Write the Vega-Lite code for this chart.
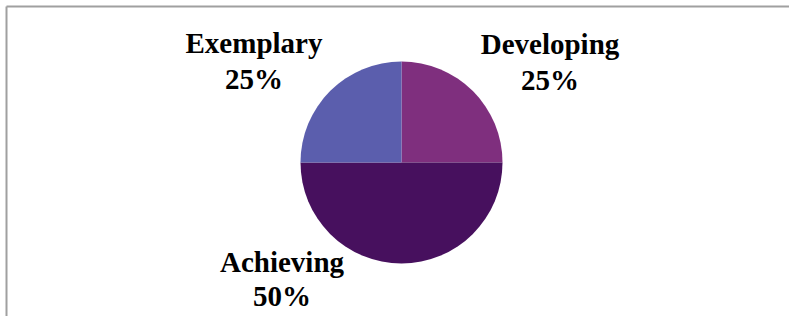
{
  "$schema": "https://vega.github.io/schema/vega-lite/v6.json",
  "autosize": {"type": "none"},
  "padding": {"left": 6, "top": 6, "right": 0, "bottom": 0},
  "width": 783,
  "height": 310,
  "background": "white",
  "config": {"view": {"stroke": null}},
  "data": {"values": [
    {"category": "Developing", "value": 25},
    {"category": "Achieving", "value": 50},
    {"category": "Exemplary", "value": 25}
  ]},
  "transform": [
    {"window": [{"op": "row_number", "as": "idx"}]},
    {"calculate": "[datum.category, datum.value + '%']", "as": "label"}
  ],
  "layer": [
    {
      "mark": {"type": "point", "opacity": 0},
      "encoding": {
        "x": {"field": "value", "type": "quantitative", "axis": {"orient": "top", "labels": false, "ticks": false, "grid": false, "title": null, "domainColor": "#a0a0a0", "domainWidth": 2}},
        "y": {"field": "value", "type": "quantitative", "axis": {"orient": "left", "labels": false, "ticks": false, "grid": false, "title": null, "domainColor": "#a0a0a0", "domainWidth": 2}}
      }
    },
    {
      "mark": {"type": "arc", "outerRadius": 101, "xOffset": 4, "yOffset": 1.5},
      "encoding": {
        "theta": {"field": "value", "type": "quantitative", "stack": true},
        "order": {"field": "idx", "type": "quantitative"},
        "color": {"field": "category", "type": "nominal", "legend": null,
          "scale": {"domain": ["Developing", "Achieving", "Exemplary"], "range": ["#7f2f7e", "#47105e", "#5b5ead"]}}
      }
    },
    {
      "transform": [{"filter": "datum.category === 'Exemplary'"}],
      "mark": {"type": "text", "font": "Liberation Serif", "fontWeight": "bold", "fontSize": 29, "lineHeight": 36, "align": "center", "baseline": "alphabetic", "dx": -143.5, "dy": -107.7, "color": "black"},
      "encoding": {"text": {"field": "label"}}
    },
    {
      "transform": [{"filter": "datum.category === 'Developing'"}],
      "mark": {"type": "text", "font": "Liberation Serif", "fontWeight": "bold", "fontSize": 29, "lineHeight": 36, "align": "center", "baseline": "alphabetic", "dx": 152.5, "dy": -107.5, "color": "black"},
      "encoding": {"text": {"field": "label"}}
    },
    {
      "transform": [{"filter": "datum.category === 'Achieving'"}],
      "mark": {"type": "text", "font": "Liberation Serif", "fontWeight": "bold", "fontSize": 29, "lineHeight": 34, "align": "center", "baseline": "alphabetic", "dx": -115.5, "dy": 111.3, "color": "black"},
      "encoding": {"text": {"field": "label"}}
    }
  ]
}
